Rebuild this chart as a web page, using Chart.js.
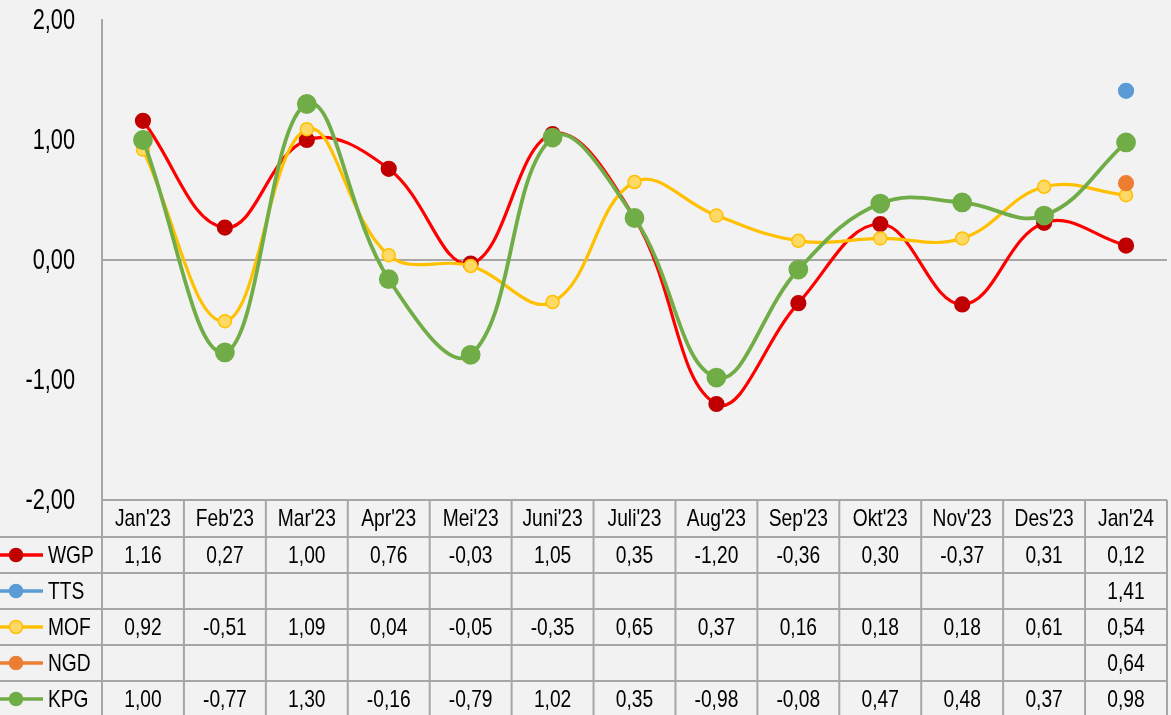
<!DOCTYPE html>
<html>
<head>
<meta charset="utf-8">
<script src="https://cdn.jsdelivr.net/npm/chart.js@4/dist/chart.umd.min.js"></script>
<style>
  html, body { margin: 0; padding: 0; background: #f2f2f2; overflow: hidden; }
  #wrap { width: 1171px; height: 715px; position: relative; }
  canvas { display: block; }
</style>
</head>
<body>
<div id="wrap"><canvas id="c" width="1171" height="715"></canvas></div>
<script>
const categories = ["Jan'23","Feb'23","Mar'23","Apr'23","Mei'23","Juni'23","Juli'23","Aug'23","Sep'23","Okt'23","Nov'23","Des'23","Jan'24"];
const WGP = [1.16, 0.27, 1.00, 0.76, -0.03, 1.05, 0.35, -1.20, -0.36, 0.30, -0.37, 0.31, 0.12];
const TTS = [null, null, null, null, null, null, null, null, null, null, null, null, 1.41];
const MOF = [0.92, -0.51, 1.09, 0.04, -0.05, -0.35, 0.65, 0.37, 0.16, 0.18, 0.18, 0.61, 0.54];
const NGD = [null, null, null, null, null, null, null, null, null, null, null, null, 0.64];
const KPG = [1.00, -0.77, 1.30, -0.16, -0.79, 1.02, 0.35, -0.98, -0.08, 0.47, 0.48, 0.37, 0.98];
const yTicks = [-2, -1, 0, 1, 2];

const FONT = "'Liberation Sans', Arial, sans-serif";
const fmt = v => v.toFixed(2).replace('.', ',');

// draw horizontally condensed text (Arial Narrow look)
function narrowText(ctx, text, x, y, size, align, sx) {
  ctx.save();
  ctx.font = size + 'px ' + FONT;
  ctx.textBaseline = 'middle';
  ctx.textAlign = align;
  ctx.translate(x, y);
  ctx.scale(sx, 1);
  ctx.fillText(text, 0, 0);
  ctx.restore();
}

const tablePlugin = {
  id: 'dataTable',
  afterDraw(chart) {
    const ctx = chart.ctx;
    const x = chart.scales.x;
    const yS = chart.scales.y;
    const area = chart.chartArea;
    const n = categories.length;
    const w = (area.right - area.left) / n;
    const top = area.bottom;
    const headerH = 37;
    const rowH = 36;
    const rows = chart.data.datasets;
    ctx.save();
    // y tick labels
    ctx.fillStyle = '#000';
    yTicks.forEach(v => narrowText(ctx, fmt(v), 75, yS.getPixelForValue(v) + 1, 29, 'right', 0.75));

    ctx.strokeStyle = '#a6a6a6';
    ctx.lineWidth = 2;
    ctx.beginPath();
    ctx.moveTo(area.left, top); ctx.lineTo(area.right, top);
    for (let r = 0; r < rows.length; r++) {
      const y = top + headerH + r * rowH;
      ctx.moveTo(0, y); ctx.lineTo(area.right, y);
    }
    for (let i = 0; i <= n; i++) {
      const xx = area.left + i * w;
      ctx.moveTo(xx, top); ctx.lineTo(xx, 715);
    }
    ctx.stroke();

    ctx.fillStyle = '#000';
    categories.forEach((c, i) => {
      narrowText(ctx, c, x.getPixelForValue(i), top + headerH / 2 + 1, 24, 'center', 0.8);
    });
    rows.forEach((ds, r) => {
      const yc = top + headerH + r * rowH + rowH / 2 + 1;
      ds.data.forEach((v, i) => {
        if (v === null) return;
        ctx.fillStyle = '#000';
        narrowText(ctx, fmt(v), x.getPixelForValue(i), yc, 24, 'center', 0.8);
      });
      // legend key
      ctx.strokeStyle = ds.borderColor;
      ctx.lineWidth = 3.5;
      ctx.beginPath(); ctx.moveTo(0, yc - 1); ctx.lineTo(43, yc - 1); ctx.stroke();
      ctx.fillStyle = ds.pointBackgroundColor;
      ctx.beginPath(); ctx.arc(16, yc - 1, 6.5, 0, Math.PI * 2); ctx.fill();
      if (ds.pointBorderColor) {
        ctx.strokeStyle = ds.pointBorderColor; ctx.lineWidth = 1.5; ctx.stroke();
      }
      ctx.fillStyle = '#000';
      narrowText(ctx, ds.label, 48, yc, 24, 'left', 0.8);
    });
    ctx.restore();
  }
};

const bgPlugin = {
  id: 'bg',
  beforeDraw(chart) {
    const ctx = chart.ctx;
    ctx.save();
    ctx.fillStyle = '#f2f2f2';
    ctx.fillRect(0, 0, chart.width, chart.height);
    ctx.restore();
  }
};

new Chart(document.getElementById('c'), {
  type: 'line',
  data: {
    labels: categories,
    datasets: [
      { label: 'WGP', data: WGP, borderColor: '#ff0000', backgroundColor: '#c00000', pointBackgroundColor: '#c00000', pointBorderColor: '#c00000', borderWidth: 3.2, pointRadius: 6.5, order: 3, tension: 0.4 },
      { label: 'TTS', data: TTS, borderColor: '#5b9bd5', backgroundColor: '#5b9bd5', pointBackgroundColor: '#5b9bd5', pointBorderColor: '#5b9bd5', borderWidth: 3.2, pointRadius: 6.5, order: 0, tension: 0.4 },
      { label: 'MOF', data: MOF, borderColor: '#ffc000', backgroundColor: '#ffd966', pointBackgroundColor: '#ffd966', pointBorderColor: '#ffc000', pointBorderWidth: 1.5, borderWidth: 3.2, pointRadius: 6.5, order: 2, tension: 0.4 },
      { label: 'NGD', data: NGD, borderColor: '#ed7d31', backgroundColor: '#ed7d31', pointBackgroundColor: '#ed7d31', pointBorderColor: '#ed7d31', borderWidth: 3.2, pointRadius: 6.5, order: 0, tension: 0.4 },
      { label: 'KPG', data: KPG, borderColor: '#70ad47', backgroundColor: '#70ad47', pointBackgroundColor: '#70ad47', pointBorderColor: '#70ad47', borderWidth: 3.8, pointRadius: 8, order: 1, tension: 0.4 }
    ]
  },
  options: {
    responsive: false,
    animation: false,
    layout: { autoPadding: false, padding: { top: 20, right: 4, bottom: 215, left: 0 } },
    plugins: { legend: { display: false }, tooltip: { enabled: false } },
    scales: {
      x: { display: false, offset: true },
      y: {
        min: -2, max: 2,
        afterFit(scale) { scale.width = 102; },
        afterBuildTicks(scale) { scale.ticks = yTicks.map(v => ({ value: v })); },
        ticks: { display: false },
        grid: { drawTicks: false, color: ctx => (ctx.tick && ctx.tick.value === 0) ? '#a6a6a6' : 'rgba(0,0,0,0)', lineWidth: 2 },
        border: { display: true, color: '#a6a6a6', width: 2 }
      }
    }
  },
  plugins: [bgPlugin, tablePlugin]
});
</script>
</body>
</html>
